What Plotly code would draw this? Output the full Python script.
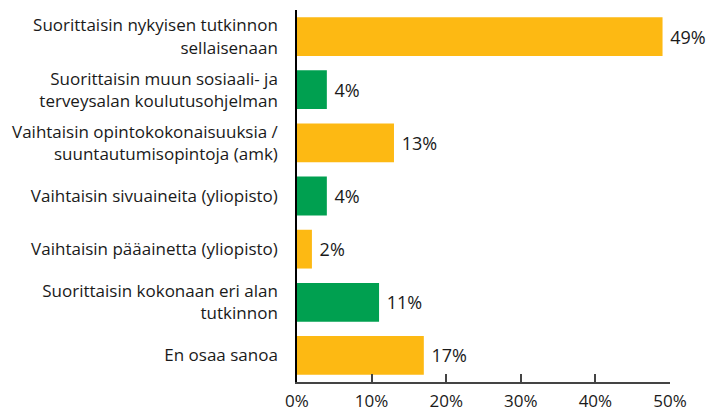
import plotly.graph_objects as go

categories = [
    "Suorittaisin nykyisen tutkinnon<br>sellaisenaan",
    "Suorittaisin muun sosiaali- ja<br>terveysalan koulutusohjelman",
    "Vaihtaisin opintokokonaisuuksia /<br>suuntautumisopintoja (amk)",
    "Vaihtaisin sivuaineita (yliopisto)",
    "Vaihtaisin pääainetta (yliopisto)",
    "Suorittaisin kokonaan eri alan<br>tutkinnon",
    "En osaa sanoa",
]
values = [49, 4, 13, 4, 2, 11, 17]
x_ticks = [0, 10, 20, 30, 40, 50]
x_tick_labels = ["0%", "10%", "20%", "30%", "40%", "50%"]

YELLOW = "#FDB913"
GREEN = "#00A050"
colors = [YELLOW if i % 2 == 0 else GREEN for i in range(len(values))]

FONT = "Open Sans"

fig = go.Figure(
    go.Bar(
        x=values,
        y=categories,
        orientation="h",
        marker=dict(color=colors, line=dict(width=0)),
        text=[f"\u00a0{v}%" for v in values],
        textposition="outside",
        constraintext="none",
        textfont=dict(family=FONT, size=18, color="#1a1a1a"),
        cliponaxis=False,
        hoverinfo="skip",
    )
)

fig.update_layout(
    width=718,
    height=414,
    margin=dict(l=297, r=48, t=10, b=32),
    paper_bgcolor="white",
    plot_bgcolor="white",
    bargap=0.27,
    showlegend=False,
    font=dict(family=FONT, size=17, color="#1a1a1a"),
    xaxis=dict(
        range=[0, 50],
        tickvals=x_ticks,
        ticktext=x_tick_labels,
        ticks="inside",
        ticklen=8,
        tickwidth=1.5,
        tickcolor="#444",
        showline=True,
        linecolor="#444",
        linewidth=1.5,
        showgrid=False,
        zeroline=False,
        automargin=False,
        ticklabelstandoff=3,
        tickfont=dict(family=FONT, size=17, color="#1a1a1a"),
        fixedrange=True,
    ),
    yaxis=dict(
        categoryorder="array",
        categoryarray=categories,
        autorange="reversed",
        showline=True,
        linecolor="black",
        linewidth=1.5,
        showgrid=False,
        zeroline=False,
        automargin=False,
        ticks="",
        ticklabelstandoff=14,
        tickfont=dict(family=FONT, size=17, color="#1a1a1a"),
        fixedrange=True,
    ),
)

fig.write_html("out.html")
